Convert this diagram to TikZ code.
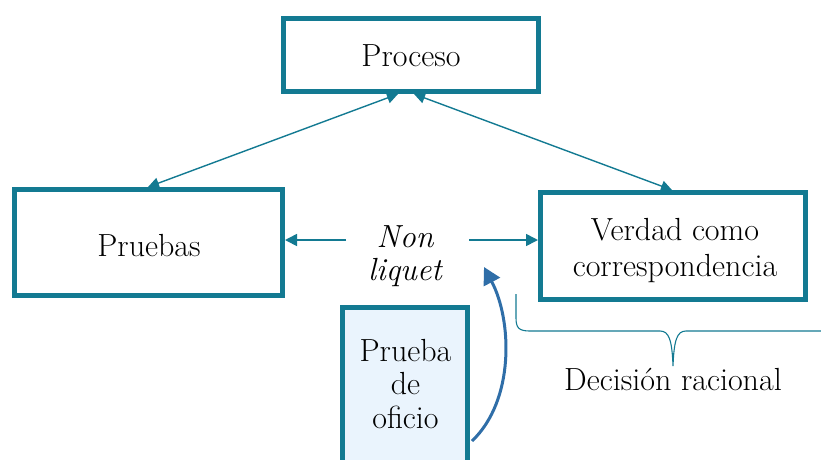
\documentclass[tikz,border=0pt]{standalone}
\usetikzlibrary{arrows.meta}
\definecolor{teal1}{HTML}{137A92}
\definecolor{arrowblue}{HTML}{2F6EA8}
\definecolor{palefill}{HTML}{EAF4FD}
\tikzset{
  box/.style={draw=teal1, line width=5pt, fill=white, inner sep=0pt},
  txt/.style={inner sep=0pt, align=center, font=\fontsize{32}{33}\selectfont},
  link/.style={draw=teal1, line width=1.4pt,
    {Triangle[length=11pt,width=11pt]}-{Triangle[length=11pt,width=11pt]}},
  side/.style={draw=teal1, line width=1.6pt, -{Triangle[length=12pt,width=12pt]}}
}
\begin{document}
\begin{tikzpicture}[x=1pt,y=-1pt]
\useasboundingbox (0,0) rectangle (821,459);
\clip (0,0) rectangle (821,459);

% main boxes
\node[box, minimum width=255pt, minimum height=73pt] (proceso) at (411,55) {};
\node[box, minimum width=268pt, minimum height=106pt] (pruebas) at (148.5,242.5) {};
\node[box, minimum width=265pt, minimum height=107pt] (verdad) at (673,246) {};
\node[txt, anchor=base] (procesotxt) at (411,66.7) {Proceso};
\node[txt, anchor=base] (pruebastxt) at (149,256) {Pruebas};
\node[txt, font=\fontsize{32}{36.7}\selectfont] (verdadtxt) at (675,250.5)
  {Verdad como\\correspondencia};

% box running off the lower edge
\node[box, fill=palefill, minimum width=125pt, minimum height=180pt] (oficio) at (405,397.5) {};
\node[txt, font=\fontsize{32}{33.3}\selectfont] (oficiotxt) at (405.5,384) {Prueba\\de\\oficio};

% links up to the top box
\draw[link] ([xshift=-13pt]proceso.south) -- ([xshift=-0.5pt]pruebas.north);
\draw[link] ([xshift=3pt]proceso.south) -- ([xshift=-1pt]verdad.north);

% centre label and its two arrows
\node[txt, font=\fontsize{32}{32.5}\selectfont\itshape] (nl) at (405,256) {Non\\liquet};
\coordinate (nlL) at (346,240);
\coordinate (nlR) at (469,240);
\draw[side] (nlL) -- (pruebas.east |- nlL);
\draw[side] (nlR) -- (verdad.west |- nlR);

% curved arrow from the lower box
\coordinate (cstart) at (472,441);
\coordinate (ctip) at (484,267);
\draw[arrowblue, line width=3pt, -{Triangle[length=17pt,width=18pt]}]
  (cstart) .. controls (515,400) and (512,320) .. (ctip);

% brace under the right box
\coordinate (bL) at (516,294);
\coordinate (bTip) at (673,366);
\coordinate (bR) at (821,331);
\draw[teal1, line width=1.1pt]
  (bL) -- (516,318) .. controls (516,328) and (519,331) .. (530,331)
  -- (660,331) .. controls (669,331) and (672,340) .. (bTip)
  .. controls (674,340) and (677,331) .. (686,331) -- (bR);
\node[txt, anchor=base] (decision) at (673,390.7) {Decisión racional};
\end{tikzpicture}
\end{document}
